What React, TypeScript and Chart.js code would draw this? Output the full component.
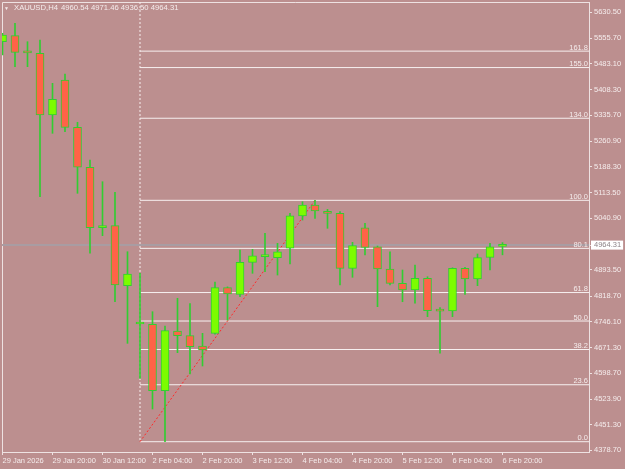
import React, { useEffect, useRef } from 'react';
import { Chart, registerables } from 'chart.js';

Chart.register(...registerables);

// ---- data ----
const SYMBOL = 'XAUUSD,H4';

const opens = [
  5545.6, 5562.8, 5515.3, 5512.5, 5336.1, 5436.2, 5301.0, 5186.7, 5014.0, 5019.8,
  4848.3, 4738.8, 4737.9, 4548.2, 4718.8, 4705.4, 4675.9, 4712.2, 4842.6, 4823.7,
  4915.1, 4931.2, 4928.3, 4955.2, 5047.5, 5078.9, 5059.8, 5055.2, 4898.0, 5014.0,
  4959.7, 4896.0, 4855.1, 4836.0, 4869.4, 4776.8, 4776.0, 4898.0, 4867.4, 4929.4,
  4960.54,
];
const highs = [
  5569.6, 5598.2, 5545.6, 5550.5, 5426.7, 5453.3, 5315.3, 5207.5, 5145.5, 5115.2,
  4945.4, 4883.7, 4774.0, 4733.1, 4812.3, 4797.4, 4712.2, 4858.8, 4845.0, 4950.3,
  4952.3, 4998.0, 4969.4, 5055.2, 5088.3, 5092.3, 5066.6, 5059.8, 4972.3, 5026.6,
  4961.7, 4945.4, 4893.1, 4907.4, 4874.0, 4785.4, 4899.5, 4900.9, 4938.9, 4969.4,
  4971.46,
];
const lows = [
  5507.6, 5474.2, 5474.2, 5102.6, 5283.8, 5288.4, 5112.4, 4940.9, 4991.2, 4802.5,
  4683.6, 4583.6, 4495.9, 4402.4, 4656.8, 4595.9, 4618.8, 4710.0, 4750.2, 4816.8,
  4883.7, 4888.3, 4878.8, 4910.3, 5036.0, 5040.9, 5012.3, 4850.3, 4872.3, 4936.0,
  4788.3, 4850.3, 4802.5, 4798.0, 4759.7, 4655.1, 4759.7, 4823.7, 4848.3, 4893.1,
  4936.50,
];
const closes = [
  5564.8, 5515.3, 5513.5, 5336.1, 5381.0, 5301.0, 5186.7, 5014.0, 5019.8, 4850.3,
  4881.7, 4740.0, 4548.2, 4719.7, 4705.4, 4673.9, 4664.5, 4842.6, 4824.5, 4915.1,
  4934.0, 4932.5, 4945.4, 5048.3, 5078.9, 5061.8, 5055.2, 4898.0, 4962.6, 4958.0,
  4896.0, 4855.1, 4836.0, 4869.4, 4776.8, 4775.5, 4898.0, 4867.4, 4928.3, 4959.7,
  4964.31,
];

const xTickIndex = [0, 4, 8, 12, 16, 20, 24, 28, 32, 36, 40];
const xTickLabels = [
  '29 Jan 2026', '29 Jan 20:00', '30 Jan 12:00', '2 Feb 04:00', '2 Feb 20:00',
  '3 Feb 12:00', '4 Feb 04:00', '4 Feb 20:00', '5 Feb 12:00', '6 Feb 04:00', '6 Feb 20:00',
];

const yTicks = [
  5630.5, 5555.7, 5483.1, 5408.3, 5335.7, 5260.9, 5188.3, 5113.5, 5040.9, 4964.31,
  4893.5, 4818.7, 4746.1, 4671.3, 4598.7, 4523.9, 4451.3, 4378.7,
];

const fibLevels = [0, 23.6, 38.2, 50, 61.8, 80.1, 100, 134, 155, 161.8];
const fibStartIndex = 11;
const fibEndIndex = 25;
const fibLow = lows[13];
const fibHigh = highs[25];

const bid = closes[closes.length - 1];

// ---- styles ----
const BG = '#bc8f8f';
const TEXT = '#f5ecec';
const FRAME = '#eee2e2';
const FIB = '#f7f0f0';
const BULL = '#7cfc00';
const BEAR = '#ff6347';
const WICK = '#32cd32';
const BIDLINE = '#a99ca2';
const FONT = "'Liberation Sans', Arial, sans-serif";
const FS = 7.5;

const X_MIN = -0.04;
const X_MAX = 46.92;
const Y_MIN = 4373.0;
const Y_MAX = 5659.1;

const fibPrice = (l: number) => fibLow + ((fibHigh - fibLow) * l) / 100;

const overlayPlugin = {
  id: 'overlay',
  beforeDatasetsDraw(chart: any) {
    const { ctx, chartArea: a } = chart;
    ctx.save();
    ctx.strokeStyle = FRAME;
    ctx.lineWidth = 1;
    ctx.beginPath();
    ctx.moveTo(a.left + 0.5, a.bottom);
    ctx.lineTo(a.left + 0.5, a.top + 0.5);
    ctx.lineTo(a.right, a.top + 0.5);
    ctx.stroke();
    ctx.restore();
  },
  afterDatasetsDraw(chart: any) {
    const { ctx, chartArea: a } = chart;
    const ys = chart.scales.y;
    ctx.save();
    ctx.font = `${FS}px ${FONT}`;
    ctx.fillStyle = TEXT;
    ctx.textAlign = 'right';
    ctx.textBaseline = 'alphabetic';
    fibLevels.forEach((l) => {
      const py = ys.getPixelForValue(fibPrice(l));
      ctx.fillText(l.toFixed(1), a.right - 1, py - 1.5);
    });
    ctx.restore();
  },
};

export default function App() {
  const ref = useRef<HTMLCanvasElement | null>(null);

  useEffect(() => {
    if (!ref.current) return;
    const bodyData = opens.map((o, i) => ({ x: i, y: [o, closes[i]] }));
    const wickData = lows.map((l, i) => ({ x: i, y: [l, highs[i]] }));
    const bodyColors = opens.map((o, i) => (closes[i] >= o ? BULL : BEAR));

    const lineBase = {
      type: 'line' as const,
      pointRadius: 0,
      borderWidth: 1,
      fill: false,
      order: 10,
      tension: 0,
    };

    const fibSets = fibLevels.map((l) => ({
      ...lineBase,
      data: [
        { x: fibStartIndex, y: fibPrice(l) },
        { x: 60, y: fibPrice(l) },
      ],
      borderColor: FIB,
    }));

    const chart = new Chart(ref.current, {
      type: 'bar',
      data: {
        datasets: [
          {
            type: 'bar',
            data: bodyData as any,
            backgroundColor: bodyColors,
            borderColor: WICK,
            borderWidth: 1,
            borderSkipped: false,
            barThickness: 8,
            minBarLength: 2,
            grouped: false,
            order: 1,
          } as any,
          {
            type: 'bar',
            data: wickData as any,
            backgroundColor: WICK,
            borderWidth: 0,
            barThickness: 1,
            grouped: false,
            order: 2,
          } as any,
          {
            ...lineBase,
            data: [
              { x: -5, y: bid },
              { x: 60, y: bid },
            ],
            borderColor: BIDLINE,
            borderWidth: 2,
            order: 11,
          },
          ...fibSets,
          {
            ...lineBase,
            data: [
              { x: fibStartIndex, y: Y_MAX },
              { x: fibStartIndex, y: fibLow },
            ],
            borderColor: FIB,
            borderDash: [2, 2],
          },
          {
            ...lineBase,
            data: [
              { x: fibStartIndex, y: fibLow },
              { x: fibEndIndex, y: fibHigh },
            ],
            borderColor: '#ff2a2a',
            borderDash: [2, 2],
            order: 5,
          },
        ] as any,
      },
      options: {
        responsive: false,
        animation: false,
        events: [],
        layout: { padding: { left: 2, top: 2, right: 0, bottom: 0 } },
        plugins: {
          legend: { display: false },
          tooltip: { enabled: false },
          title: { display: false },
        },
        scales: {
          x: {
            type: 'linear',
            min: X_MIN,
            max: X_MAX,
            offset: false,
            grid: {
              offset: false,
              drawOnChartArea: false,
              drawTicks: true,
              tickLength: 3,
              color: FRAME,
              tickColor: FRAME,
            },
            border: { display: true, color: FRAME, width: 1 },
            ticks: {
              autoSkip: false,
              maxRotation: 0,
              minRotation: 0,
              align: 'start',
              padding: 1,
              color: TEXT,
              font: { family: FONT, size: FS },
              callback: (_v: any, i: number) => xTickLabels[i],
            },
            afterBuildTicks: (s: any) => {
              s.ticks = xTickIndex.map((v) => ({ value: v }));
            },
            afterFit: (s: any) => {
              s.height = 17;
              s.paddingLeft = 0;
              s.paddingRight = 0;
            },
          } as any,
          y: {
            type: 'linear',
            position: 'right',
            min: Y_MIN,
            max: Y_MAX,
            grid: {
              drawOnChartArea: false,
              drawTicks: true,
              tickLength: 3,
              color: FRAME,
              tickColor: FRAME,
            },
            border: { display: true, color: FRAME, width: 1 },
            ticks: {
              autoSkip: false,
              padding: 2,
              font: { family: FONT, size: FS },
              color: (c: any) => (c.tick && c.tick.value === bid ? '#8e8488' : TEXT),
              showLabelBackdrop: (c: any) => !!(c.tick && c.tick.value === bid),
              backdropColor: '#ffffff',
              backdropPadding: { left: 3, right: 2, top: 0, bottom: 0 },
              callback: (v: any) => Number(v).toFixed(2),
            },
            afterBuildTicks: (s: any) => {
              s.ticks = yTicks.map((v) => ({ value: v }));
            },
            afterFit: (s: any) => {
              s.width = 36;
              s.paddingTop = 0;
              s.paddingBottom = 0;
            },
          } as any,
        },
      },
      plugins: [overlayPlugin],
    });
    return () => chart.destroy();
  }, []);

  const last = closes.length - 1;
  const ohlc = [opens[last], highs[last], lows[last], closes[last]].map((v) => v.toFixed(2)).join(' ');

  const headStyle: React.CSSProperties = {
    position: 'absolute',
    top: 3,
    fontFamily: FONT,
    fontSize: FS + 0.2,
    color: TEXT,
    lineHeight: '10px',
    whiteSpace: 'pre',
  };

  return (
    <div
      style={{
        position: 'fixed',
        left: 0,
        top: 0,
        width: 625,
        height: 469,
        background: BG,
        overflow: 'hidden',
      }}
    >
      <canvas ref={ref} width={625} height={469} style={{ display: 'block' }} />
      <div style={{ ...headStyle, left: 4, fontSize: 5 }}>▼</div>
      <div style={{ ...headStyle, left: 14 }}>{SYMBOL}</div>
      <div style={{ ...headStyle, left: 61 }}>{ohlc}</div>
    </div>
  );
}
